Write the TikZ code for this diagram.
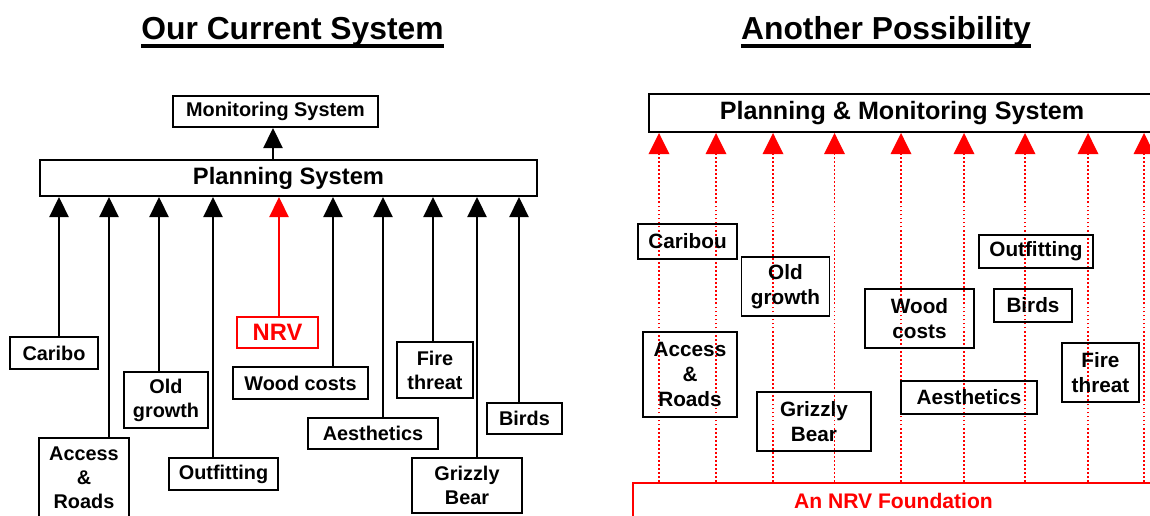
\documentclass[tikz,border=0pt]{standalone}
\usepackage{fontspec}
\setmainfont{Liberation Sans}
\usetikzlibrary{arrows.meta}

\begin{document}
\begin{tikzpicture}[x=0.02cm, y=-0.02cm,
  box/.style={draw, line width=1.1pt, inner sep=0pt, align=center, font=\fontsize{11.3}{13.6}\selectfont\bfseries},
  rbox/.style={box, font=\fontsize{11.8}{14.2}\selectfont\bfseries},
  up/.style={line width=0.9pt, -{Triangle[width=11pt,length=11.5pt]}},
  dotup/.style={red, line width=1pt, dash pattern=on 1pt off 1.3pt, -{Triangle[width=11.7pt,length=12pt]}},
  ttl/.style={inner sep=0pt, anchor=base, font=\fontsize{18.1}{21}\selectfont\bfseries}]
  \useasboundingbox (0,0) rectangle (1150,515);
  \clip (0,0) rectangle (1150,515);

  % titles
  \node[ttl] (tcur) at (292.5,39) {Our Current System};
  \node[ttl] (tnew) at (886,39) {Another Possibility};
  \draw[line width=2pt] ([yshift=-4pt]tcur.base west) -- ([yshift=-4pt]tcur.base east);
  \draw[line width=2pt] ([yshift=-4pt]tnew.base west) -- ([yshift=-4pt]tnew.base east);

  % current system
  \node[box, minimum width=4.10cm, minimum height=0.62cm] (mon) at (275.5,111.5) {Monitoring System};
  \node[box, font=\fontsize{13.5}{16}\selectfont\bfseries, minimum width=9.94cm, minimum height=0.72cm] (plan) at (288.5,178) {Planning System};
  \node[box, minimum width=1.76cm, minimum height=0.64cm] (caribo) at (54,353) {Caribo};
  \node[box, minimum width=1.80cm, minimum height=1.60cm] (access) at (84,478) {Access\\\&\\Roads};
  \node[box, minimum width=1.68cm, minimum height=1.12cm] (oldg) at (166,400) {Old\\growth};
  \node[box, minimum width=2.18cm, minimum height=0.64cm] (outf) at (223.5,474) {Outfitting};
  \node[box, red, font=\fontsize{13.5}{16}\selectfont\bfseries, minimum width=1.62cm, minimum height=0.62cm] (nrv) at (277.5,332.5) {NRV};
  \node[box, minimum width=2.70cm, minimum height=0.64cm] (wood) at (300.5,383) {Wood costs};
  \node[box, minimum width=2.60cm, minimum height=0.62cm] (aest) at (373,433.5) {Aesthetics};
  \node[box, minimum width=1.52cm, minimum height=1.12cm] (fire) at (435,370) {Fire\\threat};
  \node[box, minimum width=2.20cm, minimum height=1.10cm] (griz) at (467,485.5) {Grizzly\\Bear};
  \node[box, minimum width=1.50cm, minimum height=0.62cm] (birds) at (524.5,418.5) {Birds};

  \coordinate (xmon) at (273,0);
  \draw[up] (xmon |- plan.north) -- (xmon |- mon.south);
  \foreach \n/\x in {caribo/59, access/109, oldg/159, outf/213, wood/333, aest/383, fire/433, griz/477, birds/519} {
    \coordinate (x\n) at (\x,0);
    \draw[up] (x\n |- \n.north) -- (x\n |- plan.south);
  }
  \coordinate (xnrv) at (279,0);
  \draw[up, red] (xnrv |- nrv.north) -- (xnrv |- plan.south);

  % another possibility
  \node[box, font=\fontsize{14.3}{17}\selectfont\bfseries, minimum width=10.12cm, minimum height=0.76cm] (pm) at (902,113) {Planning \& Monitoring System};
  \node[box, red, font=\fontsize{12}{14}\selectfont\bfseries, minimum width=10.42cm, minimum height=0.72cm] (found) at (893.5,501) {An NRV Foundation};

  \foreach \x [count=\i] in {659, 716, 773, 834.5, 901, 964, 1025, 1088, 1144} {
    \coordinate (r\i) at (\x,0);
    \draw[dotup] (r\i |- found.north) -- (r\i |- pm.south);
  }

  \node[rbox, minimum width=1.98cm, minimum height=0.70cm] (caribou2) at (687.5,241.5) {Caribou};
  \node[rbox, minimum width=1.76cm, minimum height=1.18cm] (oldg2) at (785.5,286.5) {Old\\growth};
  \node[rbox, minimum width=2.18cm, minimum height=1.18cm] (wood2) at (919.5,318.5) {Wood\\costs};
  \node[rbox, minimum width=2.28cm, minimum height=0.66cm] (outf2) at (1036,251.5) {Outfitting};
  \node[rbox, minimum width=1.56cm, minimum height=0.66cm] (birds2) at (1033,305.5) {Birds};
  \node[rbox, minimum width=1.88cm, minimum height=1.70cm] (access2) at (690,374.5) {Access\\\&\\Roads};
  \node[rbox, minimum width=2.28cm, minimum height=1.18cm] (griz2) at (814,421.5) {Grizzly\\Bear};
  \node[rbox, minimum width=2.72cm, minimum height=0.66cm] (aest2) at (969,397.5) {Aesthetics};
  \node[rbox, minimum width=1.54cm, minimum height=1.18cm] (fire2) at (1100.5,372.5) {Fire\\threat};
\end{tikzpicture}
\end{document}
